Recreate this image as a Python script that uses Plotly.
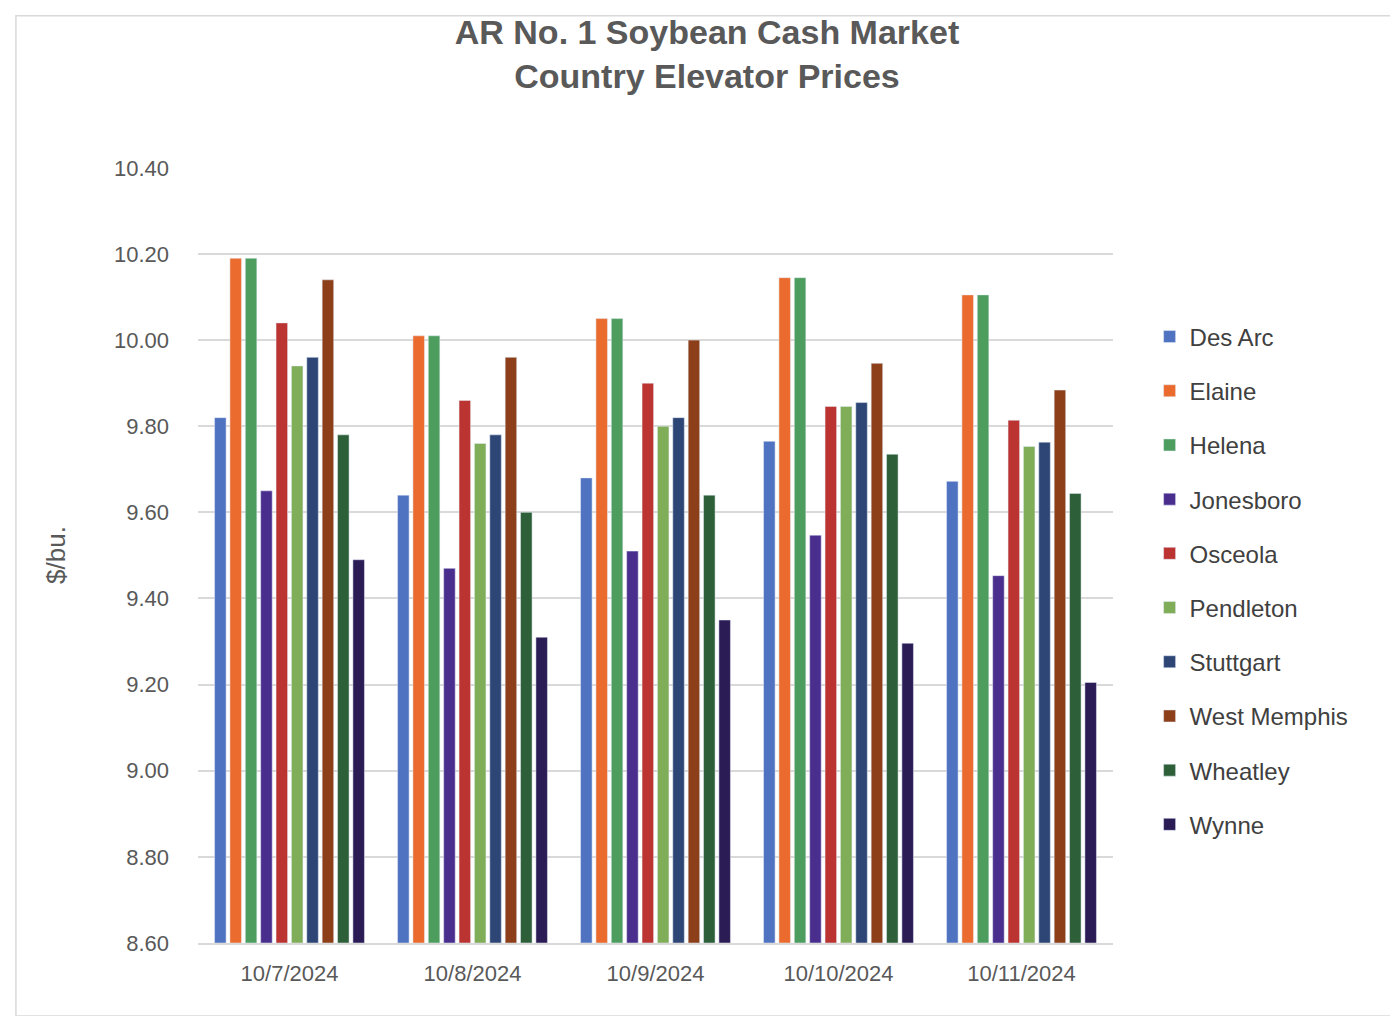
import plotly.graph_objects as go

dates = ["10/7/2024", "10/8/2024", "10/9/2024", "10/10/2024", "10/11/2024"]
locations = ["Des Arc", "Elaine", "Helena", "Jonesboro", "Osceola",
             "Pendleton", "Stuttgart", "West Memphis", "Wheatley", "Wynne"]
colors = ["#5073c1", "#eb6b2e", "#4d9e5e", "#4a2e8e", "#bb3432",
          "#80ad57", "#2e4675", "#8d3f1a", "#2d5f39", "#2b1c55"]

des_arc = [9.82, 9.64, 9.68, 9.765, 9.672]
elaine = [10.19, 10.01, 10.05, 10.145, 10.105]
helena = [10.19, 10.01, 10.05, 10.145, 10.105]
jonesboro = [9.65, 9.47, 9.51, 9.547, 9.453]
osceola = [10.04, 9.86, 9.90, 9.846, 9.814]
pendleton = [9.94, 9.76, 9.80, 9.846, 9.753]
stuttgart = [9.96, 9.78, 9.82, 9.855, 9.763]
west_memphis = [10.14, 9.96, 10.00, 9.946, 9.884]
wheatley = [9.78, 9.60, 9.64, 9.735, 9.644]
wynne = [9.49, 9.31, 9.35, 9.296, 9.205]

series = [des_arc, elaine, helena, jonesboro, osceola,
          pendleton, stuttgart, west_memphis, wheatley, wynne]
BASE = 8.6

fig = go.Figure()
for name, vals, col in zip(locations, series, colors):
    # bars drawn up from the 8.60 axis floor
    fig.add_trace(go.Bar(x=dates, y=[v - BASE for v in vals], base=BASE,
                         name=name, marker_color=col, legendgroup=name))

fig.update_layout(
    width=1398, height=1016,
    paper_bgcolor="white", plot_bgcolor="white",
    font=dict(family="Liberation Sans, Arial", color="#595959"),
    title=dict(text="<b>AR No. 1 Soybean Cash Market<br>Country Elevator Prices</b>",
               x=0.5, xanchor="center", y=0.965, yanchor="top",
               font=dict(size=34, color="#595959")),
    margin=dict(l=190, r=293, t=159, b=81),
    barmode="group", bargap=0.16, bargroupgap=0.25,
    legend=dict(x=1.04, y=0.81, yanchor="top", font=dict(size=24, color="#404040"),
                tracegroupgap=20, itemwidth=30),
    showlegend=True,
)
fig.update_yaxes(range=[8.6, 10.402], dtick=0.2, tickformat=".2f",
                 showgrid=True, gridcolor="#d9d9d9", gridwidth=2,
                 tickfont=dict(size=22, color="#595959"), ticklabelstandoff=28,
                 title=dict(text="$/bu.", font=dict(size=26, color="#595959"), standoff=40),
                 zeroline=False, ticks="")
fig.update_xaxes(showline=True, linecolor="#d9d9d9", linewidth=2,
                 tickfont=dict(size=22, color="#595959"), ticklabelstandoff=10)
fig.add_shape(type="rect", xref="paper", yref="paper", x0=-0.199, x1=1.309, y0=-0.094, y1=1.195,
              line=dict(color="#d9d9d9", width=1.5))
fig.write_html("out.html")
